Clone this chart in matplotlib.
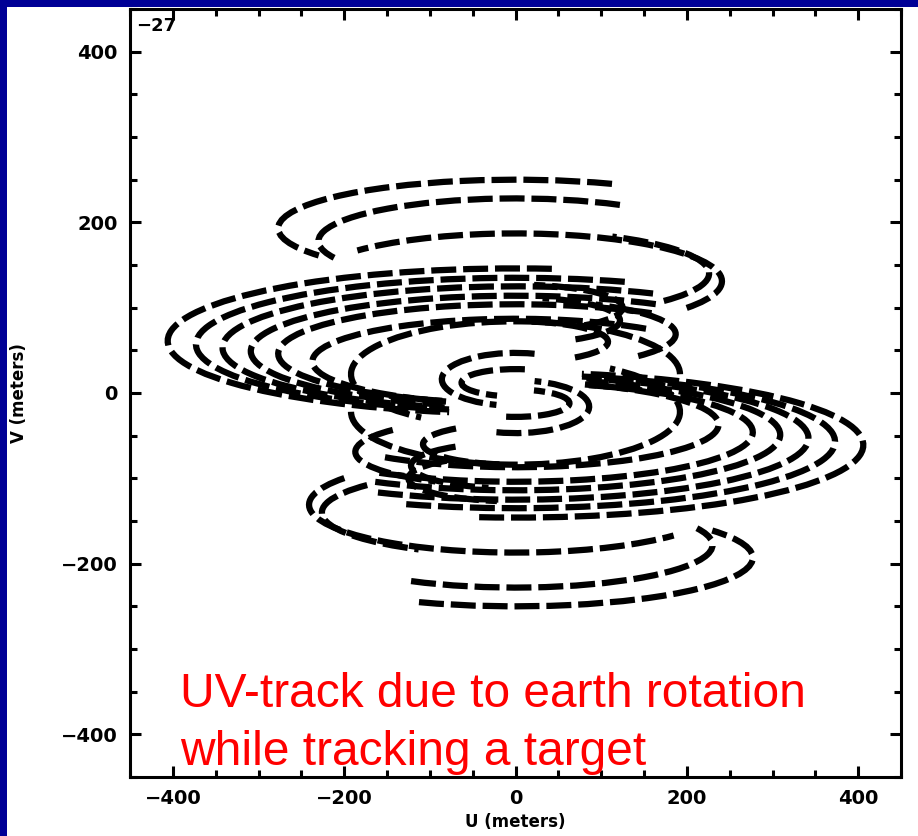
import numpy as np
import matplotlib.pyplot as plt
from matplotlib.patches import Arc, Rectangle

# uv tracks above the origin; the ones below are their conjugates (-u, -v)
# centre v, half-width in u, half-height in v, start/end phase along the ellipse (deg)
track_vc = [193, 178, 131, 140, 61, 57, 53, 49, 46, 37, 100, 85, 60, 69, 22, 16, 12]
track_a = [277, 230, 241, 226, 406, 373, 342, 309, 277, 237, 125, 122, 108, 187, 192, 86, 63]
track_b = [57, 50, 56, 50, 85, 78, 72, 65, 58, 50, 27, 27, 24, 40, 62, 31, 16]
track_t1 = [66, 58, -34, -40, 84, 70, 62, 58, 55, 50, -50, -55, -50, -40, 0, 75, 80]
track_t2 = [214, 203, 140, 60, 259, 258, 256, 254, 252, 250, 80, 75, 80, 60, 235, 255, 250]

xticks = [-400, -200, 0, 200, 400]
yticks = [-400, -200, 0, 200, 400]

navy = '#000096'

fig = plt.figure(figsize=(9.18, 8.36), dpi=100)
fig.patch.set_facecolor(navy)
fig.patches.append(Rectangle((7 / 918, 0), 1, 1 - 7 / 836, transform=fig.transFigure,
                             facecolor='white', edgecolor='none', zorder=-1))

ax = fig.add_axes([130 / 918, 59 / 836, 771 / 918, 768 / 836])
ax.set_xlim(-450, 450)
ax.set_ylim(-450, 450)


def geo_angle(t, a, b):
    # phase along the ellipse -> polar angle that Arc expects
    t = np.deg2rad(t)
    return np.rad2deg(np.arctan2(b * np.sin(t), a * np.cos(t)))


for vc, a, b, t1, t2 in zip(track_vc, track_a, track_b, track_t1, track_t2):
    for sign in (1, -1):
        off = 0 if sign == 1 else 180
        arc = Arc((0, sign * vc), 2 * a, 2 * b,
                  theta1=geo_angle(t1 + off, a, b), theta2=geo_angle(t2 + off, a, b),
                  color='black', lw=4.5, linestyle=(0, (4, 1.1)))
        ax.add_patch(arc)

ax.set_xticks(xticks)
ax.set_yticks(yticks)
ax.set_xticks(np.arange(-450, 451, 50), minor=True)
ax.set_yticks(np.arange(-450, 451, 50), minor=True)
ax.tick_params(which='both', direction='in', top=True, right=True, width=2.2)
ax.tick_params(which='major', length=8, labelsize=14, pad=9)
ax.tick_params(which='minor', length=5)
for lab in ax.get_xticklabels() + ax.get_yticklabels():
    lab.set_fontweight('bold')
for s in ax.spines.values():
    s.set_linewidth(2.2)

ax.set_xlabel('U (meters)', fontsize=12, fontweight='bold')
ax.xaxis.set_label_coords(0.5, -0.047)
ax.set_ylabel('V (meters)', fontsize=12, fontweight='bold')
ax.yaxis.set_label_coords(-0.132, 0.5)
ax.text(0.008, 0.99, '\u221227', transform=ax.transAxes, fontsize=13,
        fontweight='bold', va='top', ha='left')

fig.text(180 / 918, (836 - 707) / 836, 'UV-track due to earth rotation',
         color='red', fontsize=34.5, family='Liberation Sans', va='baseline')
fig.text(180 / 918, (836 - 765) / 836, 'while tracking a target',
         color='red', fontsize=34.5, family='Liberation Sans', va='baseline')

fig.savefig('out.png', dpi=100, facecolor=fig.get_facecolor())
